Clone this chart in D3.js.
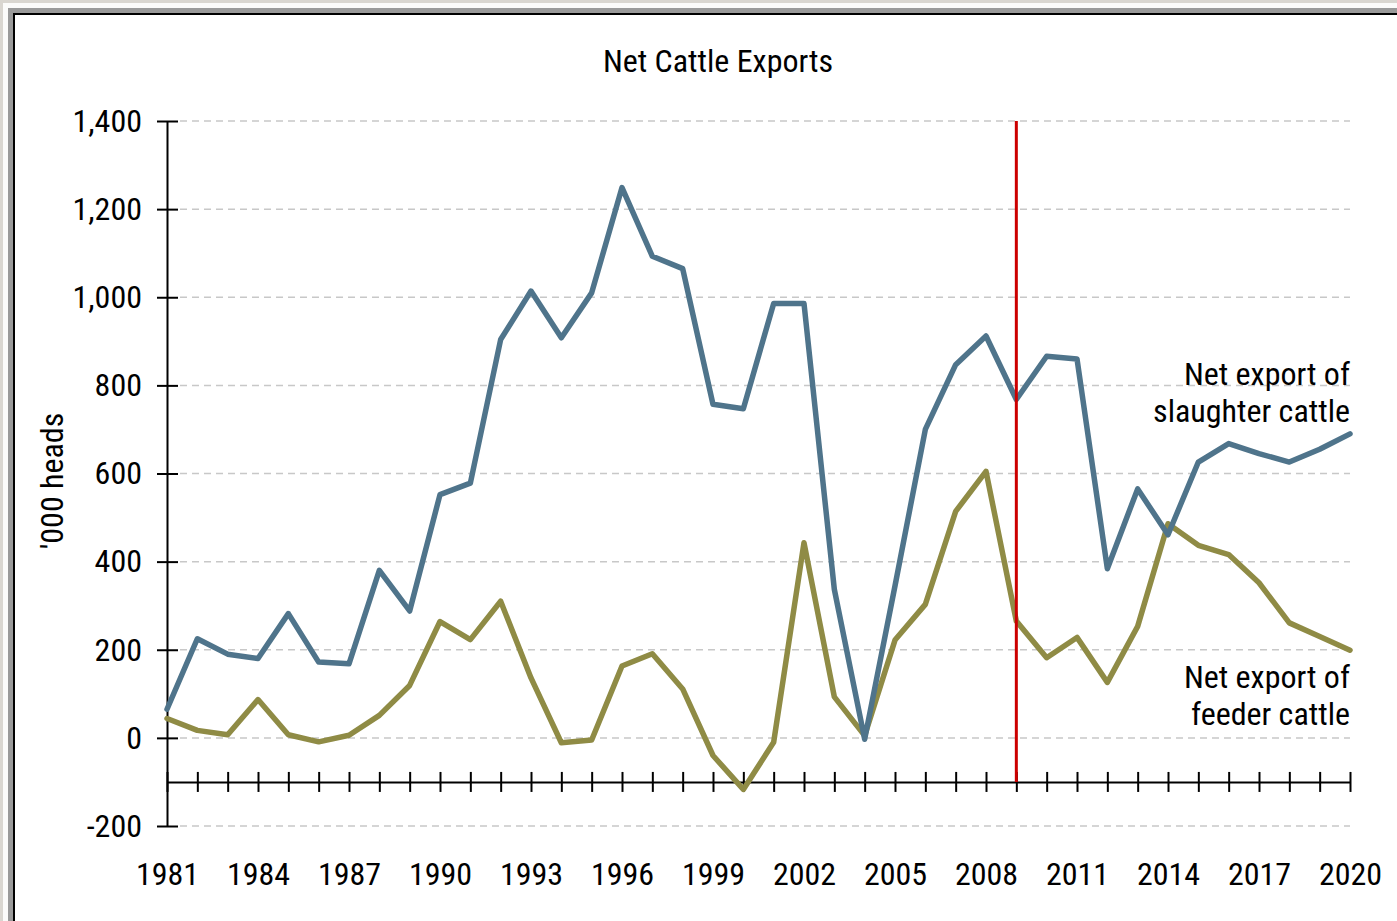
<!DOCTYPE html>
<html lang="en">

<head>
    <meta charset="utf-8">
    <title>Net Cattle Exports</title>
    <style>
        html, body {
            margin: 0;
            padding: 0;
            background: #d9d6d0;
        }
        svg {
            display: block;
        }
        text {
            font-family: "Liberation Sans Narrow", "Arial Narrow", "Roboto Condensed", sans-serif;
            font-size: 32px;
            fill: #000;
        }
        .axis path,
        .axis line {
            stroke: #000;
            stroke-width: 2px;
        }
        .grid line {
            stroke: #c8c8c8;
            stroke-width: 1.5px;
            stroke-dasharray: 7 5;
        }
        path.series {
            fill: none;
            stroke-width: 5.5px;
            stroke-linejoin: round;
            stroke-linecap: round;
        }
        path.slaughter {
            stroke: #4f748b;
        }
        path.feeder {
            stroke: #8f8b45;
        }
    </style>
</head>

<body>
    <script src="https://cdn.jsdelivr.net/npm/d3@7"></script>
    <script>
        // data, thousand heads
        const years = d3.range(1981, 2021);
        const slaughter = [65, 225, 190, 180, 282, 172, 168, 380, 288, 552,
            578, 904, 1014, 908, 1010, 1249, 1093, 1065, 757, 747,
            986, 986, 337, -3, 345, 700, 847, 912, 768, 866,
            860, 384, 565, 461, 626, 668, 645, 626, 655, 690];
        const feeder = [44, 17, 7, 87, 7, -9, 6, 51, 119, 264,
            223, 310, 136, -11, -5, 163, 191, 111, -40, -117,
            -10, 443, 93, 5, 222, 303, 514, 605, 265, 182,
            228, 126, 253, 486, 437, 416, 352, 261, 230, 199];
        const yTicks = [-200, 0, 200, 400, 600, 800, 1000, 1200, 1400];
        const xLabelYears = [1981, 1984, 1987, 1990, 1993, 1996, 1999, 2002, 2005, 2008, 2011, 2014, 2017, 2020];
        const markerYear = 2009;
        const axisCross = -100;

        const W = 1397, H = 921;

        const svg = d3.select('body')
            .append('svg')
                .attr('width', W)
                .attr('height', H);

        // frame
        svg.append('rect').attr('x', 3).attr('y', 3).attr('width', W).attr('height', H).attr('fill', '#fbfbfa');
        svg.append('rect').attr('x', 8).attr('y', 8).attr('width', W).attr('height', H).attr('fill', '#9a9a9a');
        svg.append('rect').attr('x', 13).attr('y', 13).attr('width', W).attr('height', H).attr('fill', '#000');
        svg.append('rect').attr('x', 15).attr('y', 15).attr('width', W).attr('height', H).attr('fill', '#fff');

        // scales
        const x = d3.scaleLinear()
            .domain([1981, 2020])
            .range([167, 1350]);
        const y = d3.scaleLinear()
            .domain([-200, 1400])
            .range([826, 121]);

        // gridlines
        svg.append('g')
            .attr('class', 'grid')
            .selectAll('line')
            .data(yTicks)
            .join('line')
                .attr('x1', 180)
                .attr('x2', x(2020))
                .attr('y1', d => y(d))
                .attr('y2', d => y(d));

        // y axis (plain hyphen for negatives, like the original)
        const fmt = d3.formatLocale({ decimal: '.', thousands: ',', grouping: [3], currency: ['', ''], minus: '-' }).format(',');
        const yAxis = svg.append('g')
            .attr('class', 'axis y')
            .attr('transform', `translate(${x(1981)},0)`)
            .call(d3.axisLeft(y)
                .tickValues(yTicks)
                .tickSizeOuter(0)
                .tickFormat(fmt));
        yAxis.selectAll('.tick line').attr('x1', 11).attr('x2', -10);
        yAxis.selectAll('.tick text')
            .attr('x', -25)
            .attr('dy', '0.32em');
        yAxis.attr('font-family', null).attr('font-size', null);

        // x axis, crossing at -100
        const xAxis = svg.append('g')
            .attr('class', 'axis x')
            .attr('transform', `translate(0,${y(axisCross)})`)
            .call(d3.axisBottom(x)
                .tickValues(years)
                .tickSizeOuter(0)
                .tickFormat(d => xLabelYears.includes(d) ? String(d) : ''));
        xAxis.selectAll('.tick line').attr('y1', -10).attr('y2', 10);
        xAxis.selectAll('.tick text')
            .attr('y', 103)
            .attr('dy', 0);
        xAxis.attr('font-family', null).attr('font-size', null);

        // series
        const line = d3.line()
            .x((d, i) => x(years[i]))
            .y(d => y(d));

        svg.append('path')
            .attr('class', 'series feeder')
            .attr('d', line(feeder));
        svg.append('path')
            .attr('class', 'series slaughter')
            .attr('d', line(slaughter));

        // marker line
        svg.append('line')
            .attr('x1', x(markerYear))
            .attr('x2', x(markerYear))
            .attr('y1', y(1400))
            .attr('y2', y(axisCross))
            .attr('stroke', '#cc0000')
            .attr('stroke-width', 3);

        // title
        svg.append('text')
            .attr('x', 718)
            .attr('y', 72)
            .attr('text-anchor', 'middle')
            .text('Net Cattle Exports');

        // y label
        svg.append('text')
            .attr('transform', `translate(63,481) rotate(-90)`)
            .attr('text-anchor', 'middle')
            .text("'000 heads");

        // series labels
        const labels = [
            { lines: ['Net export of', 'slaughter cattle'], y: 385 },
            { lines: ['Net export of', 'feeder cattle'], y: 688 }
        ];
        labels.forEach(l => {
            svg.append('text')
                .attr('x', x(2020))
                .attr('y', l.y)
                .attr('text-anchor', 'end')
                .selectAll('tspan')
                .data(l.lines)
                .join('tspan')
                    .attr('x', x(2020))
                    .attr('dy', (d, i) => i === 0 ? 0 : 37)
                    .text(d => d);
        });
    </script>
</body>

</html>
